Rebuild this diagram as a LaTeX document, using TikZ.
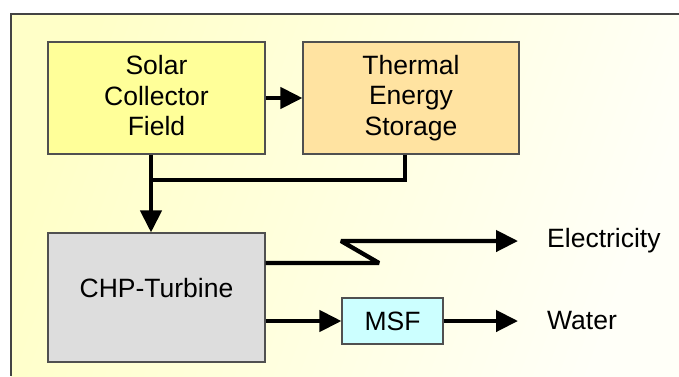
\documentclass[tikz,border=0pt]{standalone}
\usepackage{fontspec}
\setmainfont{Liberation Sans}
\usetikzlibrary{arrows.meta}
\definecolor{solarc}{HTML}{FFFF99}
\definecolor{thermc}{HTML}{FFE3A1}
\definecolor{chpc}{HTML}{DDDDDD}
\definecolor{msfc}{HTML}{CCFFFF}
\definecolor{boxline}{HTML}{505050}
\definecolor{framec}{HTML}{444444}
\definecolor{bgyel}{HTML}{FFFFC8}
\definecolor{bgpale}{HTML}{FFFFF8}
\begin{document}
\begin{tikzpicture}[x=1pt,y=-1pt,
  box/.style={draw=boxline, line width=1.1pt, inner sep=0pt, align=center,
    font=\fontsize{26.5}{30.5}\selectfont},
  flow/.style={line width=4.3pt, line join=bevel, -{Triangle[length=22pt,width=21pt]}},
  plain/.style={line width=4.3pt, line join=miter},
  lbl/.style={anchor=west, inner sep=0pt, font=\fontsize{26.5}{30.5}\selectfont}]
\useasboundingbox (0,0) rectangle (679,376);
% background frame
\shade[left color=bgyel, right color=bgpale, shading angle=70]
  (11,14) rectangle (679,376);
\draw[framec, line width=1.5pt] (11,376) -- (11,14) -- (679,14);
% boxes
\node[box, fill=solarc, minimum width=217pt, minimum height=112pt] (solar) at (156.5,98)
  {Solar\\Collector\\Field\\[-26pt]~};
\node[box, fill=thermc, minimum width=216pt, minimum height=112pt] (therm) at (411,98)
  {Thermal\\Energy\\Storage};
\node[box, fill=chpc, minimum width=217pt, minimum height=129pt] (chp) at (156.5,297.5)
  {CHP-Turbine\\[-11pt]~};
\node[box, fill=msfc, minimum width=101pt, minimum height=46pt] (msf) at (392.5,321)
  {MSF};
% labels
\node[lbl] (elec) at (547,241) {Electricity};
\node[lbl] (water) at (547,321) {Water};
% connectors
\coordinate (j) at (151,180);
\coordinate (z1) at (379,263);
\coordinate (z2) at (341,241);
\draw[flow] (solar.east) -- (therm.west);
\draw[flow] ([xshift=-5.5pt]solar.south) -- ([xshift=-5.5pt]chp.north);
\draw[plain] ([xshift=-6pt]therm.south) |- (j);
\draw[flow, shorten >=29pt] (chp.east |- z1) -- (z1) -- (z2) -- (elec.west);
\draw[flow] (chp.east |- msf.west) -- (msf.west);
\draw[flow, shorten >=29pt] (msf.east) -- (water.west);
\end{tikzpicture}
\end{document}
